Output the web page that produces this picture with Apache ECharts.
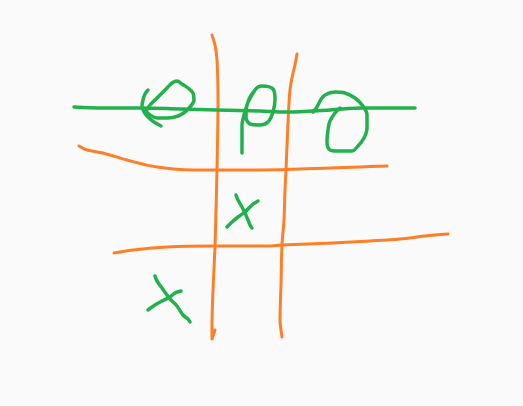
<!DOCTYPE html>
<html>
<head>
<meta charset="utf-8">
<script src="https://cdn.jsdelivr.net/npm/echarts@6/dist/echarts.min.js"></script>
<style>
  html, body { margin:0; padding:0; background:#fafafa; }
  #main { width:523px; height:406px; }
</style>
</head>
<body>
<div id="main"></div>
<script>
// strokes, each one a list of [x, y] (y counted down)
var gridV1 = [[212,35],[215,45],[217,60],[218,100],[217,170],[216,210],[215,247],[213,290],[212,327],[212,339],[215,330]];
var gridV2 = [[297,54],[295,65],[293,73],[290,90],[288,123],[286,170],[285,190],[284,220],[282,245],[281,285],[280,320],[281,330],[282,337]];
var gridH1 = [[79,146],[87,150],[103,153],[127,160],[157,167],[193,170],[260,170],[330,168],[360,167],[387,166]];
var gridH2 = [[114,253],[133,250],[167,247],[213,246],[267,246],[282,245],[333,243],[370,241],[400,239],[425,236],[448,234]];

var strike = [[74,107],[103,108],[140,108],[180,109],[217,110],[260,111],[287,112],[330,110],[363,108],[415,108]];

var oLeftArc = [[148,90],[145,94],[143,100],[142,106],[144,112],[148,117],[154,122],[161,126]];
var oLeftLoop = [[146,111],[150,105],[156,99],[162,93],[167,88],[172,83],[177,81],[182,84],[188,88],[193,93],[194,100],[190,107],[185,112],[178,116],[168,118],[157,118],[150,115],[146,111]];

var pMid = [[242,153],[242,125],[244,115],[247,105],[250,97],[255,90],[258,87],[262,86],[273,89],[275,99],[273,112],[268,122],[260,125],[250,124],[246,117],[247,105],[252,95],[255,90]];

var oRight = [[313,112],[317,107],[320,101],[325,95],[335,92],[345,93],[355,98],[363,106],[367,115],[367,128],[364,138],[358,146],[352,151],[338,151],[330,150],[327,141],[328,130],[330,121],[335,113],[340,108]];

var xMidA = [[236,195],[238,200],[242,207],[245,213],[248,220],[250,225],[252,228]];
var xMidB = [[227,227],[232,222],[238,217],[245,212],[252,205],[258,201]];
var xLowA = [[155,276],[157,281],[162,288],[167,295],[170,299],[177,306],[183,315],[188,319],[190,322]];
var xLowB = [[148,310],[155,305],[162,301],[170,297],[175,293],[181,291]];

var ORANGE = '#ff7f27', GREEN = '#22b14c';

function stroke(pts, color, w){
  return {
    type:'line', data:pts, showSymbol:false, smooth:0.35,
    silent:true, animation:false,
    lineStyle:{ color:color, width:w, cap:'round', join:'round' }
  };
}

var series = [];
[gridV1, gridV2, gridH1, gridH2].forEach(function(s){ series.push(stroke(s, ORANGE, 3)); });
[strike, oLeftArc, oLeftLoop, pMid, oRight, xMidA, xMidB, xLowA, xLowB].forEach(function(s){
  series.push(stroke(s, GREEN, 3.5));
});

var chart = echarts.init(document.getElementById('main'));
chart.setOption({
  backgroundColor:'#fafafa',
  animation:false,
  grid:{ left:0, right:0, top:0, bottom:0 },
  xAxis:{ type:'value', min:0, max:523, show:false },
  yAxis:{ type:'value', min:0, max:406, inverse:true, show:false },
  series:series
});
</script>
</body>
</html>
